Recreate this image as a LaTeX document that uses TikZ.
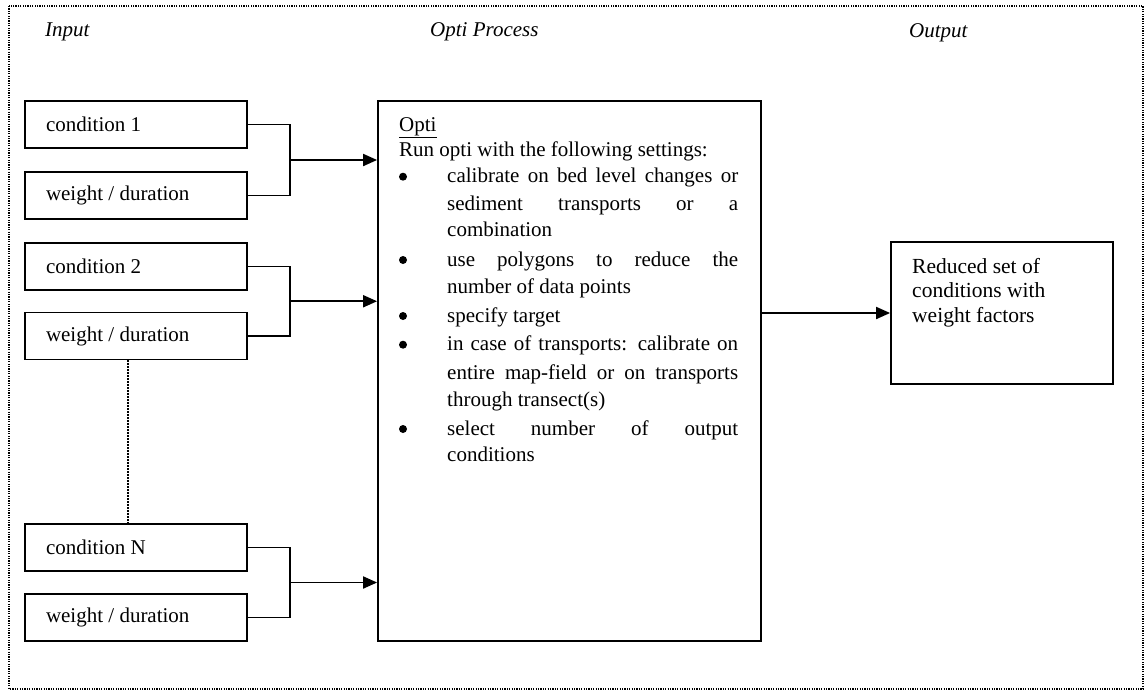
\documentclass[tikz,border=0pt]{standalone}
\usepackage{fontspec}
\setmainfont{Liberation Serif}
\usetikzlibrary{arrows.meta}
\newcommand{\dfont}{\fontsize{21}{27}\selectfont}
\newcommand{\ofont}{\fontsize{21.5}{27}\selectfont}
\begin{document}
\begin{tikzpicture}[x=1pt,y=-1pt,
  inbox/.style={draw, line width=1.8pt, rectangle, minimum width=222pt, minimum height=47pt,
    text width=180pt, inner xsep=21pt, inner ysep=0pt, align=flush left, font=\dfont},
  bigbox/.style={draw, line width=1.8pt, rectangle, inner sep=0pt},
  txt/.style={anchor=base west, inner sep=0pt, font=\dfont},
  bul/.style={circle, fill=black, minimum size=8pt, inner sep=0pt},
  conn/.style={line width=1.9pt},
  arr/.style={line width=1.9pt, -{Triangle[length=14pt,width=12pt]}},
  frame/.style={line width=1.3pt, dash pattern=on 1.2pt off 1.2pt},
  dots/.style={line width=1.5pt, dash pattern=on 1.5pt off 1.5pt}]
\useasboundingbox (0,0) rectangle (1146,691);
\draw[frame] (9,6) rectangle (1143,689);

% headers
\node[txt] (hin) at (45,36.7) {\textit{Input}};
\node[txt] (hproc) at (430,36.5) {\textit{Opti Process}};
\node[txt] (hout) at (909,37) {\textit{Output}};

% input boxes
\node[inbox] (c1) at (136,124.5) {condition 1};
\node[inbox] (w1) at (136,195.5) {weight / duration};
\node[inbox] (c2) at (136,266.5) {condition 2};
\node[inbox] (w2) at (136,336) {weight / duration};
\node[inbox] (cN) at (136,547.5) {condition N};
\node[inbox] (wN) at (136,617.5) {weight / duration};

% process box
\node[bigbox, minimum width=383pt, minimum height=540pt] (opti) at (569.5,371) {};
% output box
\node[bigbox, minimum width=222pt, minimum height=142pt] (out) at (1002,313) {};

% connectors
\coordinate (j1) at (290,160);
\coordinate (j2) at (290,301.25);
\coordinate (j3) at (290,582.5);
\draw[conn] (c1.east) -| (j1);
\draw[conn] (w1.east) -| (j1);
\draw[arr] (j1) -- (j1 -| opti.west);
\draw[conn] (c2.east) -| (j2);
\draw[conn] (w2.east) -| (j2);
\draw[arr] (j2) -- (j2 -| opti.west);
\draw[conn] (cN.east) -| (j3);
\draw[conn] (wN.east) -| (j3);
\draw[arr] (j3) -- (j3 -| opti.west);
\draw[arr] (out.west -| opti.east) -- (out.west);
\draw[dots] ([xshift=-8pt]w2.south) -- ([xshift=-8pt]cN.north);

% process text
\node[txt] (p0) at (399,131.7) {\underline{Opti}};
\node[txt] (p1) at (399,156.7) {Run opti with the following settings:};
\node[bul] (b1) at (403,176.7) {};
\node[txt] (p2) at (447,182.7) {\makebox[291pt][s]{calibrate on bed level changes or}};
\node[txt] (p3) at (447,210.7) {\makebox[291pt][s]{sediment transports or a}};
\node[txt] (p4) at (447,236.7) {combination};
\node[bul] (b2) at (403,260) {};
\node[txt] (p5) at (447,266) {\makebox[291pt][s]{use polygons to reduce the}};
\node[txt] (p6) at (447,293) {number of data points};
\node[bul] (b3) at (403,316) {};
\node[txt] (p7) at (447,322) {specify target};
\node[bul] (b4) at (403,344.7) {};
\node[txt] (p8) at (447,350.7) {\makebox[291pt][s]{in case of transports: calibrate on}};
\node[txt] (p9) at (447,379) {\makebox[291pt][s]{entire map-field or on transports}};
\node[txt] (p10) at (447,406) {through transect(s)};
\node[bul] (b5) at (403,429) {};
\node[txt] (p11) at (447,435) {\makebox[291pt][s]{select number of output}};
\node[txt] (p12) at (447,461.7) {conditions};

% output text
\node[txt, font=\ofont] (o1) at (912,273) {Reduced set of};
\node[txt, font=\ofont] (o2) at (912,297.5) {conditions with};
\node[txt, font=\ofont] (o3) at (912,322) {weight factors};
\end{tikzpicture}
\end{document}
